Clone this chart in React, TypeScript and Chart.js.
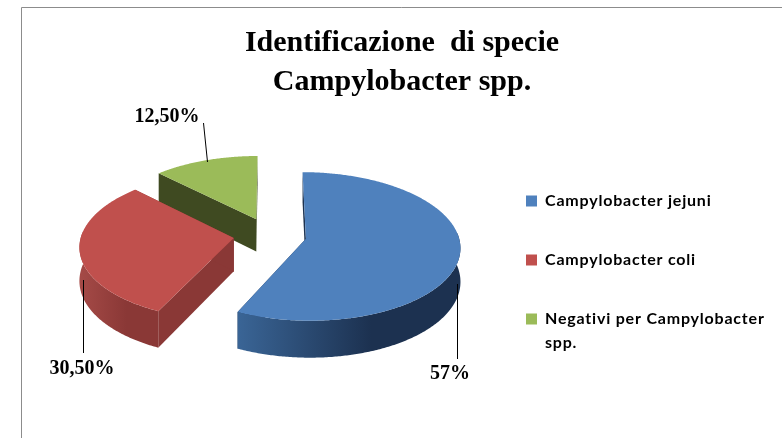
import React, { useEffect, useRef } from "react";
import { Chart, registerables } from "chart.js";

Chart.register(...registerables);

const categories = ["Campylobacter jejuni", "Campylobacter coli", "Negativi per Campylobacter spp."];
const legendLines = [["Campylobacter jejuni", ""], ["Campylobacter coli", ""], ["Negativi per Campylobacter", "spp."]];
const values = [57, 30.5, 12.5];
const valueLabels = ["57%", "30,50%", "12,50%"];
const topColors = ["#4f81bd", "#c0504d", "#9bbb59"];
const wallColors = ["#1d3250", "#8a3836", "#3f4a21"];
const sideLeft = ["#3a6596", "#a54a47", "#5d7035"];
const sideRight = ["#1c3150", "#8a3836", "#3f4a21"];
const explode = [0.24, 0.24, 0.24];
const labelBoxes = [
  { x: 450, y: 374, from: [457, 284], to: [457, 359] },
  { x: 82, y: 369, from: [83, 280], to: [83, 353] },
  { x: 167, y: 117, from: [207, 162], to: [203, 123] },
];

const CX = 270, CY = 235, AX = 152.5, AY = 72.7, K = 0.102, DEPTH = 33;
const frameColor = "#8c8c8c";

function project(u: number, v: number, depth: number) {
  const s = 1 / (1 - K * v);
  return [CX + AX * u * s, CY + (AY * v + depth) * s];
}

function slicePoints(start: number, end: number, ex: number, depth: number) {
  const mid = (start + end) / 2;
  const cu = ex * Math.cos(mid), cv = ex * Math.sin(mid);
  const pts: number[][] = [];
  const n = Math.max(2, Math.ceil((end - start) / 0.01));
  for (let i = 0; i <= n; i++) {
    const t = start + ((end - start) * i) / n;
    pts.push(project(cu + Math.cos(t), cv + Math.sin(t), depth));
  }
  return { apex: project(cu, cv, depth), pts };
}

function polygon(ctx: CanvasRenderingContext2D, pts: number[][], fill: any) {
  ctx.beginPath();
  pts.forEach((p, i) => (i ? ctx.lineTo(p[0], p[1]) : ctx.moveTo(p[0], p[1])));
  ctx.closePath();
  ctx.fillStyle = fill;
  ctx.fill();
}

const framePlugin = {
  id: "frame",
  beforeDraw(chart: any) {
    const { ctx, width, height } = chart;
    ctx.save();
    ctx.fillStyle = "#ffffff";
    ctx.fillRect(0, 0, width, height);
    ctx.strokeStyle = frameColor;
    ctx.lineWidth = 1;
    ctx.beginPath();
    ctx.moveTo(21.5, height);
    ctx.lineTo(21.5, 7.5);
    ctx.lineTo(width, 7.5);
    ctx.stroke();
    ctx.restore();
  },
  afterLayout(chart: any) {
    const legend = chart.legend;
    legend.left = 515;
    legend.top = 182;
    legend.bottom = 438;
    if (!legend.__spaced) {
      legend.__spaced = true;
      const original = legend.draw;
      legend.draw = function (...args: any[]) {
        chart.ctx.save();
        chart.ctx.letterSpacing = "0.8px";
        original.apply(this, args);
        chart.ctx.restore();
      };
    }
  },
};

const pie3dPlugin = {
  id: "pie3d",
  beforeDatasetDraw(chart: any) {
    const { ctx } = chart;
    const arcs = chart.getDatasetMeta(0).data;
    ctx.save();
    [2, 1, 0].forEach((i) => {
      const { startAngle, endAngle } = arcs[i].getProps(["startAngle", "endAngle"]);
      const top = slicePoints(startAngle, endAngle, explode[i], 0);
      const low = slicePoints(startAngle, endAngle, explode[i], DEPTH);
      const first = 0, last = top.pts.length - 1;
      polygon(ctx, [top.apex, top.pts[first], low.pts[first], low.apex], wallColors[i]);
      polygon(ctx, [top.apex, top.pts[last], low.pts[last], low.apex], wallColors[i]);
      const keep = top.pts.map((_, j) => {
        const t = startAngle + ((endAngle - startAngle) * j) / last;
        return Math.sin(t) > -0.1;
      });
      const upper = top.pts.filter((_, j) => keep[j]);
      const lower = low.pts.filter((_, j) => keep[j]);
      if (upper.length > 1) {
        const xs = upper.map((p) => p[0]);
        const g = ctx.createLinearGradient(Math.min(...xs), 0, Math.max(...xs), 0);
        g.addColorStop(0, sideLeft[i]);
        g.addColorStop(0.6, sideRight[i]);
        g.addColorStop(1, sideRight[i]);
        polygon(ctx, [...upper, ...lower.reverse()], g);
      }
      polygon(ctx, [top.apex, ...top.pts], topColors[i]);
    });
    ctx.restore();
    return false;
  },
  afterDatasetsDraw(chart: any) {
    const { ctx } = chart;
    ctx.save();
    ctx.strokeStyle = "#000000";
    ctx.lineWidth = 1;
    ctx.fillStyle = "#000000";
    ctx.font = "bold 20px 'Liberation Serif'";
    ctx.textAlign = "center";
    ctx.textBaseline = "middle";
    labelBoxes.forEach((b, i) => {
      ctx.beginPath();
      ctx.moveTo(b.from[0] + 0.5, b.from[1]);
      ctx.lineTo(b.to[0] + 0.5, b.to[1]);
      ctx.stroke();
      ctx.fillText(valueLabels[i], b.x, b.y);
    });
    ctx.restore();
  },
};

export default function App() {
  const ref = useRef<HTMLCanvasElement>(null);
  useEffect(() => {
    document.body.style.margin = "0";
    const chart = new Chart(ref.current as HTMLCanvasElement, {
      type: "pie",
      data: {
        labels: categories,
        datasets: [{ data: values, backgroundColor: topColors, borderWidth: 0 }],
      },
      plugins: [framePlugin, pie3dPlugin],
      options: {
        animation: false,
        responsive: false,
        layout: { padding: { left: 22 } },
        plugins: {
          tooltip: { enabled: false },
          title: {
            display: true,
            text: ["Identificazione  di specie", "Campylobacter spp."],
            color: "#000000",
            font: { family: "'Liberation Serif'", size: 30, weight: "bold", lineHeight: 1.3 },
            padding: { top: 24, bottom: 4 },
          },
          legend: {
            position: "right",
            align: "start",
            labels: {
              boxWidth: 11,
              boxHeight: 11,
              padding: 11,
              color: "#000000",
              font: { family: "Lato", size: 16, weight: "bold", lineHeight: "24px" },
              generateLabels: () =>
                legendLines.map((text, i) => ({
                  text,
                  fillStyle: topColors[i],
                  strokeStyle: topColors[i],
                  lineWidth: 0,
                  index: i,
                })),
            },
          },
        },
      } as any,
    });
    return () => chart.destroy();
  }, []);
  return <canvas ref={ref} width={782} height={438} style={{ display: "block" }} />;
}
